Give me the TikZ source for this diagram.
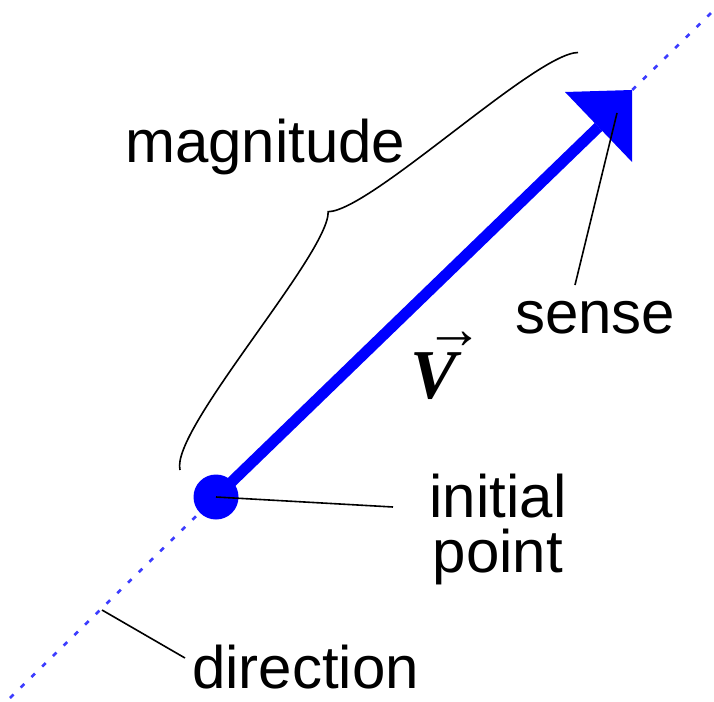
\documentclass[tikz,border=0pt]{standalone}
\usepackage{fontspec}
\setmainfont{Liberation Sans}
\newfontfamily\vfont{Liberation Serif}
\begin{document}
\begin{tikzpicture}[x=1pt,y=-1pt,
  lbl/.style={font=\fontsize{60}{55}\selectfont, inner sep=0pt},
  pointer/.style={draw=black, line width=1.6pt},
  dirline/.style={draw={rgb,255:red,60;green,60;blue,255}, line width=2.6pt, dash pattern=on 5pt off 10pt},
  vecshaft/.style={draw=blue, line width=11pt},
  bracestyle/.style={draw=black, line width=1.6pt}]
\useasboundingbox (0,0) rectangle (714,701);
% direction line
\coordinate (dstart) at (10,698);
\coordinate (dend) at (712,12);
\draw[dirline] (dstart) -- (dend);
% vector
\coordinate (tip) at (632,90);
\coordinate (backL) at (565,92);
\coordinate (backR) at (632,162);
\coordinate (back) at (598.5,127);
\node[circle, fill=blue, minimum size=45pt, inner sep=0pt] (init) at (216,497) {};
\draw[vecshaft] (init.center) -- (back);
\fill[blue] (tip) -- (backL) -- (backR) -- cycle;
% brace
\coordinate (braceA) at (180,470);
\coordinate (braceM) at (328.2,211.7);
\coordinate (braceB) at (578,52.5);
\draw[bracestyle] (braceA) .. controls (170,430) and (329,254.1) .. (braceM)
   .. controls (370.6,210.9) and (535.3,53.1) .. (braceB);
% labels
\node[lbl, anchor=base west] (mag) at (125,162) {magnitude};
\node[lbl, anchor=base west] (sense) at (515,333) {sense};
\node[lbl, anchor=north, align=center] (ip) at (498,474) {initial\\point};
\node[lbl, anchor=base west] (dir) at (192,688) {direction};
\node[inner sep=0pt, anchor=base west, font=\fontsize{70}{70}\selectfont\vfont] (V) at (410,398)
  {{\bfseries\itshape V}\hspace{-31pt}\rlap{\raisebox{49.5pt}{\fontsize{58}{58}\selectfont →}}};
% pointers
\coordinate (senseTip) at (617,113);
\coordinate (senseEnd) at (575,285);
\draw[pointer] (senseTip) -- (senseEnd);
\coordinate (ipEnd) at (393,507);
\draw[pointer] (init.center) -- (ipEnd);
\coordinate (dirPt) at (102,610);
\coordinate (dirEnd) at (185,658);
\draw[pointer] (dirPt) -- (dirEnd);
\end{tikzpicture}
\end{document}
